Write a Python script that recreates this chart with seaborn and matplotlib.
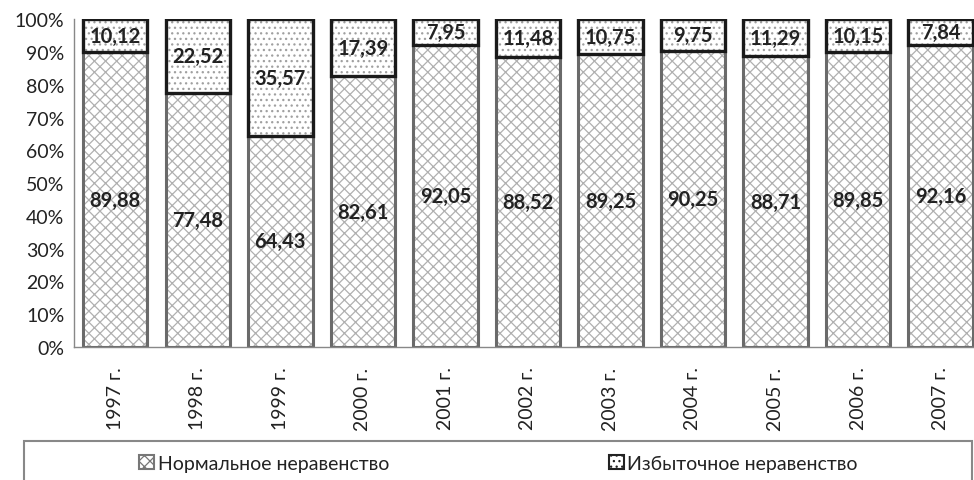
import seaborn as sns
from matplotlib import pyplot as plt
from matplotlib.patches import Patch, Rectangle
from matplotlib.ticker import PercentFormatter
import pandas as pd
import numpy as np

# данные
years = ['1997 г.', '1998 г.', '1999 г.', '2000 г.', '2001 г.', '2002 г.',
         '2003 г.', '2004 г.', '2005 г.', '2006 г.', '2007 г.']
normal = [89.88, 77.48, 64.43, 82.61, 92.05, 88.52, 89.25, 90.25, 88.71, 89.85, 92.16]
excess = [10.12, 22.52, 35.57, 17.39, 7.95, 11.48, 10.75, 9.75, 11.29, 10.15, 7.84]
series_names = ['Нормальное неравенство', 'Избыточное неравенство']

sns.set_style('white')
plt.rcParams['font.family'] = ['Lato', 'DejaVu Sans']
plt.rcParams['hatch.linewidth'] = 0.9

df = pd.DataFrame({'year': years, 'normal': normal, 'excess': excess})

fig = plt.figure(figsize=(9.74, 4.81), dpi=100)
ax = fig.add_axes([0.076, 0.2765, 0.932, 0.6815])

bw = 0.78
x = np.arange(len(years))
# нормальное неравенство: штриховка светлая, рамка темнее
sns.barplot(data=df, x='year', y='normal', color='white', edgecolor='#b0b0b0',
            hatch='xxx', linewidth=0, width=bw, ax=ax)
ax.bar(x, df['normal'], width=bw, fill=False, edgecolor='#6a6a6a', linewidth=2.2)
# избыточное неравенство: штриховка + черная рамка
ax.bar(x, df['excess'], bottom=df['normal'], width=bw, color='white',
       edgecolor='#a0a0a0', hatch='...', linewidth=0)
ax.bar(x, df['excess'], bottom=df['normal'], width=bw, fill=False,
       edgecolor='#1a1a1a', linewidth=2.4)

# подписи
for i in range(len(years)):
    ax.text(x[i], normal[i] / 2, f'{normal[i]:.2f}'.replace('.', ','),
            ha='center', va='center', fontsize=14.5, fontweight='bold', color='#222222')
    ax.text(x[i], normal[i] + excess[i] / 2, f'{excess[i]:.2f}'.replace('.', ','),
            ha='center', va='center', fontsize=14.5, fontweight='bold', color='#222222')

ax.set_xlim(-0.5, len(years) - 0.5)
ax.set_ylim(0, 100)
ax.set_yticks(np.arange(0, 101, 10))
ax.yaxis.set_major_formatter(PercentFormatter(decimals=0))
ax.set_xticks(np.arange(-0.5, len(years), 1), minor=False)
ax.set_xticklabels([])
ax.set_xticks(x, minor=True)
ax.set_xticklabels(years, minor=True, rotation=90, fontsize=14)
ax.tick_params(axis='x', which='minor', length=0, pad=14)
ax.tick_params(axis='x', which='major', length=5, width=1, color='#888888', direction='out')
ax.tick_params(axis='y', length=5, width=1, color='#888888', direction='out',
               labelsize=14, pad=2, labelcolor='#222222')
ax.tick_params(axis='x', which='minor', labelcolor='#222222')
ax.set_xlabel('')
ax.set_ylabel('')
for s in ['top', 'right']:
    ax.spines[s].set_visible(False)
for s in ['left', 'bottom']:
    ax.spines[s].set_color('#888888')
    ax.spines[s].set_linewidth(1)

# легенда
fig.patches.append(Rectangle((24 / 974, -0.1), 948 / 974, 0.181, transform=fig.transFigure,
                             fill=False, edgecolor='#888888', linewidth=1.5))
handles = [Patch(facecolor='white', edgecolor='#777777', hatch='xxx', linewidth=1.5),
           Patch(facecolor='white', edgecolor='#222222', hatch='...', linewidth=1.5)]
leg = fig.legend(handles, series_names, loc='center', bbox_to_anchor=(0.512, 1 - 464 / 481),
                 ncol=2, frameon=False, fontsize=14, handlelength=0.75, handleheight=0.75,
                 handletextpad=0.2, columnspacing=11.3)
for t in leg.get_texts():
    t.set_color('#222222')

fig.savefig('out.png', dpi=100)
